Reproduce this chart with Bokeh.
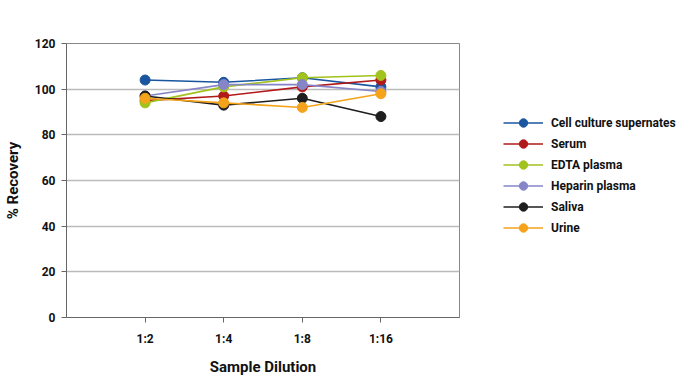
from bokeh.plotting import figure
from bokeh.models import FixedTicker, Range1d, Legend, LegendItem
from bokeh.embed import file_html
from bokeh.resources import INLINE

categories = ["1:2", "1:4", "1:8", "1:16"]
x_pos = [1, 2, 3, 4]
series_names = ["Cell culture supernates", "Serum", "EDTA plasma", "Heparin plasma", "Saliva", "Urine"]
cell_culture = [104, 103, 105, 101]
serum = [95, 97, 101, 104]
edta = [94, 101, 105, 106]
heparin = [97, 102, 102, 99]
saliva = [97, 93, 96, 88]
urine = [96, 94, 92, 98]
y_ticks = [0, 20, 40, 60, 80, 100, 120]
colors = ["#1a56a0", "#b21a1a", "#a2c21c", "#8585c8", "#1e1e1e", "#f5a31a"]

FONT = "Roboto"

p = figure(frame_width=393, frame_height=274, output_backend="svg", toolbar_location=None,
           x_range=Range1d(0, 5), y_range=Range1d(0, 120),
           min_border_left=64, min_border_right=20, min_border_top=43, min_border_bottom=50)

p.outline_line_color = "#888888"
p.outline_line_width = 1

all_series = [cell_culture, serum, edta, heparin, saliva, urine]
items = []
for name, vals, c in zip(series_names, all_series, colors):
    l = p.line(x_pos, vals, line_color=c, line_width=1.6)
    s = p.scatter(x_pos, vals, size=10, fill_color=c, line_color=c)
    items.append(LegendItem(label=name, renderers=[l, s]))

legend = Legend(items=items, location=(44, 79))
legend.glyph_width = 40
legend.glyph_height = 21
legend.label_standoff = 8
legend.spacing = 0
legend.padding = 0
legend.margin = 0
legend.border_line_color = None
legend.background_fill_alpha = 0
legend.label_text_font = FONT
legend.label_text_font_style = "bold"
legend.label_text_font_size = "12px"
legend.label_text_color = "#111111"
p.add_layout(legend, "right")

p.xaxis.ticker = FixedTicker(ticks=x_pos)
p.xaxis.major_label_overrides = {x: c for x, c in zip(x_pos, categories)}
p.yaxis.ticker = FixedTicker(ticks=y_ticks)
p.xgrid.visible = False
p.ygrid.grid_line_color = "#bbbbbb"
p.ygrid.grid_line_width = 1.5
p.ygrid.ticker = FixedTicker(ticks=y_ticks)

for ax in (p.xaxis, p.yaxis):
    ax.axis_line_color = "#666666"
    ax.major_tick_line_color = "#666666"
    ax.major_tick_in = 0
    ax.major_tick_out = 5
    ax.minor_tick_line_color = None
    ax.major_label_text_font = FONT
    ax.major_label_text_font_style = "bold"
    ax.major_label_text_font_size = "12px"
    ax.major_label_text_color = "#111111"
    ax.axis_label_text_font = FONT
    ax.axis_label_text_font_style = "bold"
    ax.axis_label_text_font_size = "15px"
    ax.axis_label_text_color = "#111111"

p.xaxis.axis_label = "Sample Dilution"
p.yaxis.axis_label = "% Recovery"
p.xaxis.major_label_standoff = 9
p.xaxis.axis_label_standoff = 9
p.yaxis.major_label_standoff = 6
p.yaxis.axis_label_standoff = 10

open("out.html", "w").write(file_html(p, INLINE))
